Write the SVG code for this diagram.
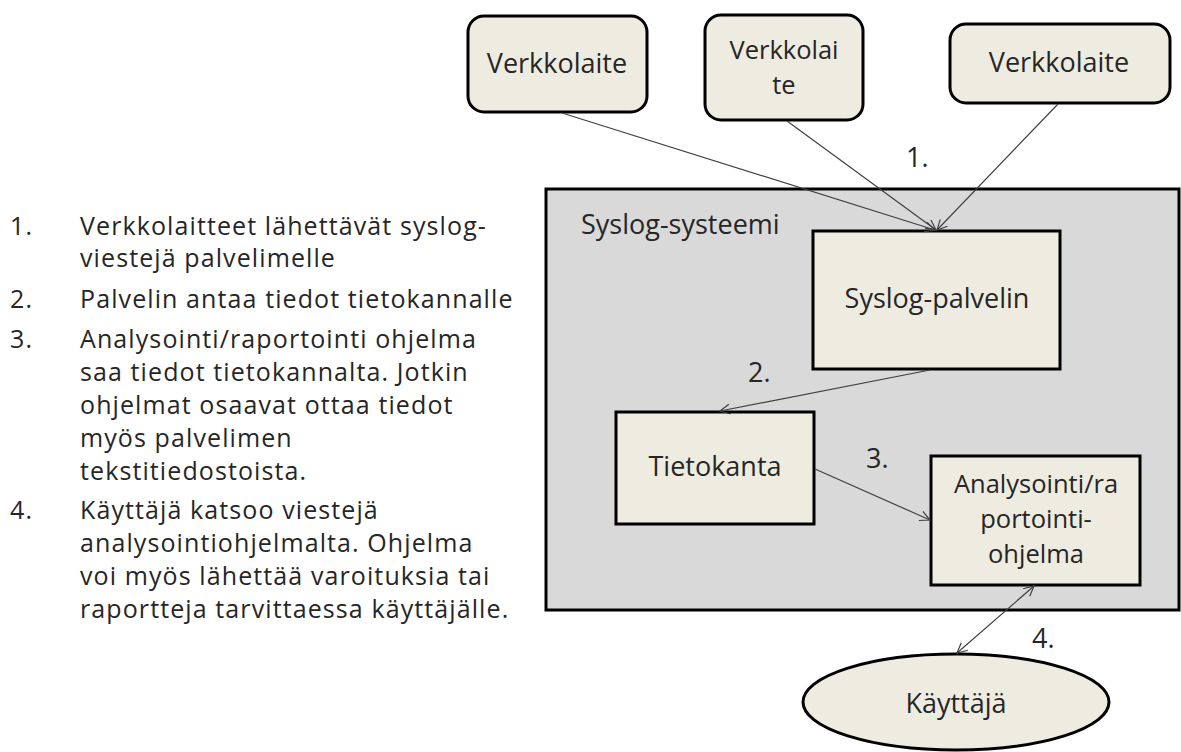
<svg xmlns="http://www.w3.org/2000/svg" width="1181" height="752" viewBox="0 0 1181 752">
<defs>
<style>
text{font-family:"Open Sans","Noto Sans",sans-serif;fill:#262626}
.lbl{font-size:27px;text-anchor:middle}
.ml{font-size:25.5px}
.num{font-size:27px}
.lst{font-size:25px;letter-spacing:1.1px}
.node{fill:#EEECE1;stroke:#000;stroke-width:3}
.conn line{stroke:#404040;stroke-width:1.2;fill:none}
</style>
<marker id="arr" viewBox="0 0 12 12" refX="11" refY="6" markerWidth="12" markerHeight="12" markerUnits="userSpaceOnUse" orient="auto-start-reverse">
<path d="M1,1 L11,6 L1,11" fill="none" stroke="#404040" stroke-width="1.2"/>
</marker>
</defs>
<rect width="1181" height="752" fill="#fff"/>
<g id="list">
<text class="lst" x="10" y="235">1.</text>
<text class="lst" x="80" y="235">Verkkolaitteet lähettävät syslog-</text>
<text class="lst" x="80" y="267">viestejä palvelimelle</text>
<text class="lst" x="10" y="308">2.</text>
<text class="lst" x="80" y="308">Palvelin antaa tiedot tietokannalle</text>
<text class="lst" x="10" y="348">3.</text>
<text class="lst" x="80" y="348">Analysointi/raportointi ohjelma</text>
<text class="lst" x="80" y="381">saa tiedot tietokannalta. Jotkin</text>
<text class="lst" x="80" y="414">ohjelmat osaavat ottaa tiedot</text>
<text class="lst" x="80" y="447">myös palvelimen</text>
<text class="lst" x="80" y="480">tekstitiedostoista.</text>
<text class="lst" x="10" y="519">4.</text>
<text class="lst" x="80" y="519">Käyttäjä katsoo viestejä</text>
<text class="lst" x="80" y="552">analysointiohjelmalta. Ohjelma</text>
<text class="lst" x="80" y="585">voi myös lähettää varoituksia tai</text>
<text class="lst" x="80" y="618">raportteja tarvittaessa käyttäjälle.</text>
</g>
<g id="system">
<rect x="546" y="189" width="633" height="421" fill="#D9D9D9" stroke="#000" stroke-width="3"/>
<text class="lbl" x="581" y="234" style="text-anchor:start">Syslog-systeemi</text>
</g>
<g id="dev1">
<rect class="node" x="468" y="16" width="179" height="96" rx="16"/>
<text class="lbl" x="557" y="73">Verkkolaite</text>
</g>
<g id="dev2">
<rect class="node" x="705" y="15" width="158" height="105" rx="16"/>
<text class="lbl ml" x="784" y="59">Verkkolai</text>
<text class="lbl ml" x="784" y="94">te</text>
</g>
<g id="dev3">
<rect class="node" x="950" y="24" width="220" height="79" rx="16"/>
<text class="lbl" x="1059" y="72">Verkkolaite</text>
</g>
<g id="server">
<rect class="node" x="813" y="231" width="247" height="138"/>
<text class="lbl" x="937" y="308">Syslog-palvelin</text>
</g>
<g id="db">
<rect class="node" x="616" y="412" width="198" height="112"/>
<text class="lbl" x="715" y="476">Tietokanta</text>
</g>
<g id="analyzer">
<rect class="node" x="931" y="456" width="209" height="129"/>
<text class="lbl ml" x="1036" y="493">Analysointi/ra</text>
<text class="lbl ml" x="1036" y="528">portointi-</text>
<text class="lbl ml" x="1036" y="563">ohjelma</text>
</g>
<g id="user">
<ellipse class="node" cx="956" cy="702" rx="153" ry="48"/>
<text class="lbl" x="956" y="713">Käyttäjä</text>
</g>
<g class="conn" id="connectors">
<line x1="562" y1="113" x2="935" y2="230" marker-end="url(#arr)"/>
<line x1="787" y1="121" x2="936" y2="230" marker-end="url(#arr)"/>
<line x1="1058" y1="104" x2="937" y2="230" marker-end="url(#arr)"/>
<line x1="930" y1="370" x2="720" y2="411" marker-end="url(#arr)"/>
<line x1="815" y1="469" x2="930" y2="520" marker-end="url(#arr)"/>
<line x1="957" y1="653" x2="1034" y2="586" marker-start="url(#arr)" marker-end="url(#arr)"/>
</g>
<g id="labels">
<text class="num" x="906" y="167">1.</text>
<text class="num" x="748" y="382">2.</text>
<text class="num" x="866" y="468">3.</text>
<text class="num" x="1032" y="648">4.</text>
</g>
</svg>
